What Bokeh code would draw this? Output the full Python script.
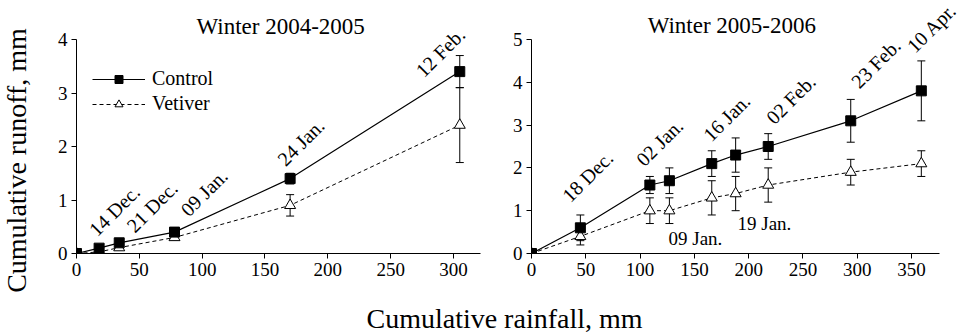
import math
from bokeh.plotting import figure
from bokeh.layouts import row, column
from bokeh.models import (ColumnDataSource, Whisker, TeeHead, Label, LabelSet,
                          Legend, LegendItem, Range1d, FixedTicker)
from bokeh.core.properties import value
from bokeh.embed import file_html
from bokeh.resources import INLINE

# ---------------- data ----------------
left_title = "Winter 2004-2005"
left_rain = [0, 18, 34, 78, 170, 305]
left_ctrl = [0, 0.1, 0.2, 0.4, 1.4, 3.4]
left_ctrl_err = [0, 0, 0, 0.08, 0.1, 0.3]
left_vet = [0, 0.03, 0.11, 0.3, 0.9, 2.4]
left_vet_err = [0, 0, 0, 0.05, 0.2, 0.7]
left_dates = ["14 Dec.", "21 Dec.", "09 Jan.", "24 Jan.", "12 Feb."]
left_date_x = [11, 41, 84, 161, 271]
left_date_y = [0.30, 0.37, 0.67, 1.61, 3.27]

right_title = "Winter 2005-2006"
right_rain = [0, 45, 109, 127, 166, 188, 218, 294, 359]
right_ctrl = [0, 0.6, 1.6, 1.7, 2.1, 2.3, 2.5, 3.1, 3.8]
right_ctrl_err = [0, 0.3, 0.2, 0.3, 0.3, 0.4, 0.3, 0.5, 0.7]
right_vet = [0, 0.4, 1.0, 1.0, 1.3, 1.4, 1.6, 1.9, 2.1]
right_vet_err = [0, 0.2, 0.3, 0.3, 0.4, 0.4, 0.4, 0.3, 0.3]
right_dates = ["18 Dec.", "02 Jan.", "16 Jan.", "02 Feb.", "23 Feb.", "10 Apr."]
right_date_x = [29.5, 97.6, 159.3, 217.4, 295.7, 347]
right_date_y = [1.17, 2.01, 2.59, 2.99, 3.83, 4.66]
right_flat_dates = ["19 Jan.", "09 Jan."]
right_flat_x = [189.7, 126.2]
right_flat_y = [0.56, 0.21]

left_xticks = [0, 50, 100, 150, 200, 250, 300]
left_yticks = [0, 1, 2, 3, 4]
right_xticks = [0, 50, 100, 150, 200, 250, 300, 350]
right_yticks = [0, 1, 2, 3, 4, 5]

FONT = "Liberation Serif"
ROW_H = 286


def make_panel(width, border_left, border_right, xmax, xaxis_end, ymax, yaxis_end,
               xticks, yticks, rain, ctrl, ctrl_err, vet, vet_err,
               title, title_x, title_y, dates, dx, dy, legend=False):
    p = figure(width=width, height=ROW_H, output_backend="svg", toolbar_location=None,
               x_range=Range1d(0, xmax), y_range=Range1d(0, ymax),
               min_border_left=border_left, min_border_right=border_right,
               min_border_top=0, min_border_bottom=33)
    p.outline_line_color = None
    p.grid.visible = False
    p.background_fill_color = None
    p.border_fill_color = None
    for ax in (p.xaxis[0], p.yaxis[0]):
        ax.axis_line_color = "black"
        ax.axis_line_width = 1
        ax.major_tick_line_color = "black"
        ax.major_tick_out = 5
        ax.major_tick_in = 0
        ax.minor_tick_line_color = None
        ax.major_label_text_font = FONT
        ax.major_label_text_font_size = "19px"
        ax.major_label_text_color = "black"
        ax.major_label_standoff = 4
    p.xaxis[0].ticker = FixedTicker(ticks=xticks)
    p.yaxis[0].ticker = FixedTicker(ticks=yticks)
    p.xaxis[0].bounds = (0, xaxis_end)
    p.yaxis[0].bounds = (0, yaxis_end)

    def whisk(xs, ys, es):
        src = ColumnDataSource(dict(
            x=[x for x, e in zip(xs, es) if e > 0],
            lo=[y - e for y, e in zip(ys, es) if e > 0],
            hi=[y + e for y, e in zip(ys, es) if e > 0]))
        w = Whisker(source=src, base="x", lower="lo", upper="hi",
                    line_color="black", line_width=1,
                    upper_head=TeeHead(size=8, line_color="black", line_width=1),
                    lower_head=TeeHead(size=8, line_color="black", line_width=1),
                    level="underlay")
        p.add_layout(w)
    whisk(rain, vet, vet_err)
    whisk(rain, ctrl, ctrl_err)

    lv = p.line(rain, vet, line_color="black", line_width=1, line_dash="4 3")
    sv = p.scatter(rain, vet, marker="triangle", size=11, fill_color="white",
                   line_color="black", line_width=1)
    lc = p.line(rain, ctrl, line_color="black", line_width=1.2)
    sc = p.scatter(rain, ctrl, marker="square", size=10, fill_color="black",
                   line_color="black")

    if legend:
        leg = Legend(items=[LegendItem(label="Control", renderers=[lc, sc]),
                            LegendItem(label="Vetiver", renderers=[lv, sv])],
                     location=(16, 138), glyph_width=53, glyph_height=20,
                     label_text_font=FONT, label_text_font_size="20px",
                     label_text_color="black",
                     label_standoff=7, spacing=2, padding=0, margin=0,
                     border_line_color=None, background_fill_alpha=0,
                     label_height=20)
        p.add_layout(leg)

    p.add_layout(Label(x=title_x, y=title_y, text=title, text_font=FONT,
                       text_font_size="23px", text_align="center",
                       text_baseline="alphabetic", text_color="black"))
    dsrc = ColumnDataSource(dict(x=dx, y=dy, t=dates))
    p.add_layout(LabelSet(source=dsrc, x="x", y="y", text="t", angle=math.pi / 4,
                          x_offset=7, y_offset=0,
                          text_font=value(FONT), text_font_size="20px",
                          text_align="left", text_baseline="alphabetic",
                          text_color="black"))
    return p


# y-axis label strip (full height)
pY = figure(width=40, height=333, output_backend="svg", toolbar_location=None,
            x_range=Range1d(0, 40), y_range=Range1d(0, 333),
            x_axis_location=None, y_axis_location=None, min_border=0)
pY.outline_line_color = None
pY.grid.visible = False
pY.add_layout(Label(x=16, y=173, text="Cumulative runoff, mm", angle=math.pi / 2,
                    text_font=FONT, text_font_size="28px", text_align="center",
                    text_baseline="middle", text_color="black"))

pL = make_panel(458, 36, 18, 321.5, 321.5, 4.729, 4, left_xticks, left_yticks,
                left_rain, left_ctrl, left_ctrl_err, left_vet, left_vet_err,
                left_title, 162.5, 4.25, left_dates, left_date_x, left_date_y,
                legend=True)

pR = make_panel(463, 33, 0, 396.0, 375.8, 5.911, 5, right_xticks, right_yticks,
                right_rain, right_ctrl, right_ctrl_err, right_vet, right_vet_err,
                right_title, 184.5, 5.32, right_dates, right_date_x, right_date_y)
fsrc = ColumnDataSource(dict(x=right_flat_x, y=right_flat_y, t=right_flat_dates))
pR.add_layout(LabelSet(source=fsrc, x="x", y="y", text="t",
                       text_font=value(FONT), text_font_size="19px",
                       text_align="left", text_baseline="alphabetic",
                       text_color="black"))

pB = figure(width=921, height=47, output_backend="svg", toolbar_location=None,
            x_range=Range1d(0, 921), y_range=Range1d(0, 47),
            x_axis_location=None, y_axis_location=None, min_border=0)
pB.outline_line_color = None
pB.grid.visible = False
pB.add_layout(Label(x=464, y=15, text="Cumulative rainfall, mm", text_font=FONT,
                    text_font_size="28px", text_align="center",
                    text_baseline="alphabetic", text_color="black"))

layout = row(pY, column(row(pL, pR), pB))

open("out.html", "w").write(file_html(layout, INLINE))
